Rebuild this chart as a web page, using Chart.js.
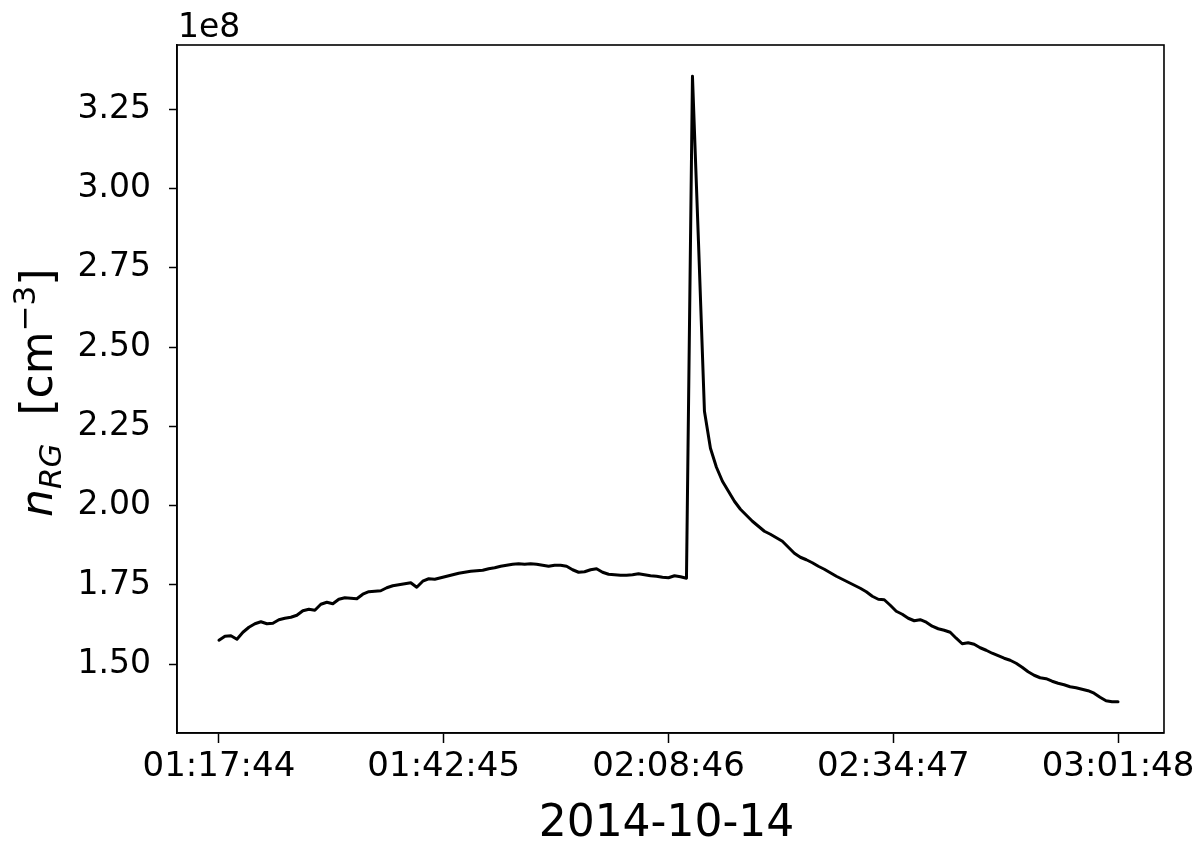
<!DOCTYPE html>
<html>
<head>
<meta charset="utf-8">
<script src="https://cdn.jsdelivr.net/npm/chart.js@4/dist/chart.umd.min.js"></script>
<style>
html,body{margin:0;padding:0;background:#fff;}
#wrap{width:1200px;height:842px;position:relative;}
</style>
</head>
<body>
<div id="wrap"><canvas id="c" width="1200" height="842"></canvas></div>
<script>
// ---- data (values in units of 1e8 cm^-3), one sample per index ----
const dateLabel = '2014-10-14';
const offsetLabel = '1e8';
const xTickLabels = ['01:17:44', '01:42:45', '02:08:46', '02:34:47', '03:01:48'];
const xTickIndex = [0, 37.5, 75, 112.5, 150];
const yTickValues = [1.50, 1.75, 2.00, 2.25, 2.50, 2.75, 3.00, 3.25];
const nRG = [
  1.5757, 1.5883, 1.5898, 1.5788, 1.6009, 1.6166, 1.6277, 1.6340, 1.6277, 1.6293,
  1.6403, 1.6450, 1.6482, 1.6545, 1.6687, 1.6734, 1.6703, 1.6892, 1.6955, 1.6907,
  1.7049, 1.7096, 1.7081, 1.7065, 1.7207, 1.7286, 1.7301, 1.7317, 1.7412, 1.7475,
  1.7506, 1.7538, 1.7569, 1.7428, 1.7617, 1.7695, 1.7680, 1.7727, 1.7774, 1.7822,
  1.7869, 1.7900, 1.7932, 1.7948, 1.7963, 1.8011, 1.8042, 1.8089, 1.8121, 1.8153,
  1.8168, 1.8153, 1.8168, 1.8153, 1.8121, 1.8089, 1.8121, 1.8121, 1.8089, 1.7979,
  1.7900, 1.7916, 1.7979, 1.8011, 1.7900, 1.7837, 1.7822, 1.7806, 1.7806, 1.7822,
  1.7853, 1.7822, 1.7790, 1.7774, 1.7743, 1.7727, 1.7790, 1.7759, 1.7711, 3.3537,
  2.8336, 2.2976, 2.1810, 2.1211, 2.0769, 2.0454, 2.0139, 1.9887, 1.9697, 1.9508,
  1.9351, 1.9193, 1.9098, 1.8988, 1.8878, 1.8689, 1.8499, 1.8373, 1.8294, 1.8200,
  1.8089, 1.7995, 1.7885, 1.7774, 1.7680, 1.7585, 1.7491, 1.7396, 1.7286, 1.7144,
  1.7049, 1.7033, 1.6860, 1.6671, 1.6576, 1.6450, 1.6371, 1.6403, 1.6324, 1.6198,
  1.6119, 1.6072, 1.6009, 1.5820, 1.5646, 1.5678, 1.5631, 1.5520, 1.5441, 1.5347,
  1.5268, 1.5189, 1.5126, 1.5032, 1.4905, 1.4764, 1.4653, 1.4574, 1.4543, 1.4464,
  1.4401, 1.4354, 1.4291, 1.4259, 1.4212, 1.4165, 1.4086, 1.3960, 1.3849, 1.3818,
  1.3818
];

const points = nRG.map((v, i) => ({x: i, y: v}));
const FONT = "'DejaVu Sans', sans-serif";

const framePlugin = {
  id: 'frame',
  afterDraw(chart) {
    const {ctx, chartArea: a} = chart;
    ctx.save();
    ctx.strokeStyle = '#000';
    ctx.lineWidth = 1.6;
    ctx.strokeRect(a.left, a.top, a.right - a.left, a.bottom - a.top);

    ctx.fillStyle = '#000';
    // offset text
    ctx.font = '33px ' + FONT;
    ctx.textAlign = 'left';
    ctx.textBaseline = 'alphabetic';
    ctx.fillText(offsetLabel, a.left + 1, 37);

    // x-axis title
    ctx.font = '44px ' + FONT;
    ctx.textAlign = 'center';
    ctx.fillText(dateLabel, (a.left + a.right) / 2 - 4, 836);

    // y-axis title: n_RG  [cm^-3]
    ctx.translate(52, 517);
    ctx.rotate(-Math.PI / 2);
    ctx.textAlign = 'left';
    let x = 0;
    const piece = (t, font, dy) => {
      ctx.font = font;
      ctx.fillText(t, x, dy);
      x += ctx.measureText(t).width;
    };
    piece('n', 'italic 44px ' + FONT, 0);
    piece('RG', 'italic 31px ' + FONT, 9);
    piece('  [cm', '44px ' + FONT, 0);
    piece('\u22123', '31px ' + FONT, -17);
    piece(']', '44px ' + FONT, 0);
    ctx.restore();
  }
};

new Chart(document.getElementById('c'), {
  type: 'line',
  data: {
    datasets: [{
      data: points,
      borderColor: '#000',
      borderWidth: 3,
      borderJoinStyle: 'round',
      borderCapStyle: 'round',
      pointRadius: 0,
      tension: 0,
      fill: false
    }]
  },
  options: {
    responsive: false,
    animation: false,
    layout: {padding: {top: 45, right: 35, left: 0, bottom: 0}},
    plugins: {legend: {display: false}, tooltip: {enabled: false}},
    scales: {
      x: {
        type: 'linear',
        min: -7.0,
        max: 157.67,
        afterBuildTicks: s => { s.ticks = xTickIndex.map(v => ({value: v})); },
        afterFit: s => { s.height = 109; },
        ticks: {
          autoSkip: false, maxRotation: 0, minRotation: 0,
          color: '#000', padding: 4,
          font: {family: FONT, size: 34},
          callback: (v, i) => xTickLabels[i]
        },
        grid: {display: true, drawOnChartArea: false, drawTicks: true, tickLength: 10, tickColor: '#000', tickWidth: 1.5},
        border: {display: true, color: '#000', width: 1.6}
      },
      y: {
        type: 'linear',
        min: 1.2832,
        max: 3.4523,
        afterBuildTicks: s => { s.ticks = yTickValues.map(v => ({value: v})); },
        afterFit: s => { s.width = 177; },
        ticks: {
          color: '#000', padding: 18,
          font: {family: FONT, size: 33},
          callback: v => v.toFixed(2)
        },
        grid: {display: true, drawOnChartArea: false, drawTicks: true, tickLength: 8, tickColor: '#000', tickWidth: 1.5},
        border: {display: true, color: '#000', width: 1.6}
      }
    }
  },
  plugins: [framePlugin]
});
</script>
</body>
</html>
